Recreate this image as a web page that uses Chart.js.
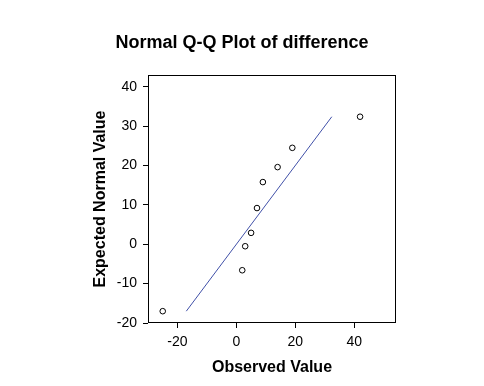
<!DOCTYPE html>
<html>
<head>
<meta charset="utf-8">
<script src="https://cdn.jsdelivr.net/npm/chart.js@4"></script>
<style>
  body { margin: 0; background: #fff; }
  canvas { display: block; }
</style>
</head>
<body>
<canvas id="qqChart" width="484" height="386"></canvas>
<script>
// observed differences and their expected normal values
var observed = [-25, 2, 3, 5, 7, 9, 14, 19, 42]
var expected = [-17.0, -6.6, -0.5, 2.9, 9.2, 15.8, 19.6, 24.5, 32.4]

// reference line ends (y = x)
var lineX = [-17.0, 32.4]
var lineY = [-17.0, 32.4]

var xTicks = [-20, 0, 20, 40]
var yTicks = [-20, -10, 0, 10, 20, 30, 40]

var points = observed.map(function(v, i) {
  return { x: v, y: expected[i] }
})
var refLine = lineX.map(function(v, i) {
  return { x: v, y: lineY[i] }
})

// box around the plot area
const frame = {
  id: 'frame',
  afterDraw(chart) {
    const a = chart.chartArea
    const ctx = chart.ctx
    ctx.save()
    ctx.strokeStyle = '#000'
    ctx.lineWidth = 1
    ctx.strokeRect(Math.round(a.left) + 0.5, Math.round(a.top) + 0.5,
      Math.round(a.right - a.left) - 1, Math.round(a.bottom - a.top) - 1)
    ctx.restore()
  }
}

const tickFont = { family: 'Liberation Sans, Arial', size: 14 }
const titleFont = { family: 'Liberation Sans, Arial', size: 16, weight: 'bold' }

const config = {
  type: 'scatter',
  data: {
    datasets: [{
      label: 'Observed',
      data: points,
      pointRadius: 2.8,
      pointBorderWidth: 1,
      borderColor: '#000',
      backgroundColor: 'rgba(0,0,0,0)'
    }, {
      label: 'Reference',
      type: 'line',
      data: refLine,
      borderColor: '#4050a8',
      borderWidth: 1,
      pointRadius: 0,
      fill: false
    }]
  },
  options: {
    responsive: false,
    animation: false,
    layout: { padding: 0 },
    plugins: {
      legend: { display: false },
      tooltip: { enabled: false },
      title: {
        display: true,
        text: 'Normal Q-Q Plot of difference',
        color: '#000',
        font: { family: 'Liberation Sans, Arial', size: 18, weight: 'bold' },
        padding: { top: 32, bottom: 21.4 }
      }
    },
    scales: {
      x: {
        type: 'linear',
        min: -30,
        max: 54.2,
        afterBuildTicks: function(scale) {
          scale.ticks = xTicks.map(function(v) { return { value: v } })
        },
        afterFit: function(scale) { scale.height = 63 },
        grid: { drawOnChartArea: false, drawTicks: true, tickLength: 5, color: '#000' },
        border: { display: false },
        ticks: { color: '#000', font: tickFont, padding: 6, maxRotation: 0 },
        title: {
          display: true,
          text: 'Observed Value',
          color: '#000',
          font: titleFont,
          padding: { top: 0, bottom: 9 }
        }
      },
      y: {
        type: 'linear',
        min: -20,
        max: 43,
        afterBuildTicks: function(scale) {
          scale.ticks = yTicks.map(function(v) { return { value: v } })
        },
        afterFit: function(scale) { scale.width = 148 },
        grid: { drawOnChartArea: false, drawTicks: true, tickLength: 5, color: '#000' },
        border: { display: false },
        ticks: { color: '#000', font: tickFont, padding: 6 },
        title: {
          display: true,
          text: 'Expected Normal Value',
          color: '#000',
          font: titleFont,
          padding: { top: 91, bottom: 0 }
        }
      },
      // empty right-hand margin so the title centres on the whole page
      yRight: {
        type: 'linear',
        position: 'right',
        min: -20,
        max: 43,
        afterFit: function(scale) { scale.width = 88 },
        grid: { display: false },
        border: { display: false },
        ticks: { display: false }
      }
    }
  },
  plugins: [frame]
}

const myChart = new Chart(document.getElementById('qqChart'), config)
</script>
</body>
</html>
